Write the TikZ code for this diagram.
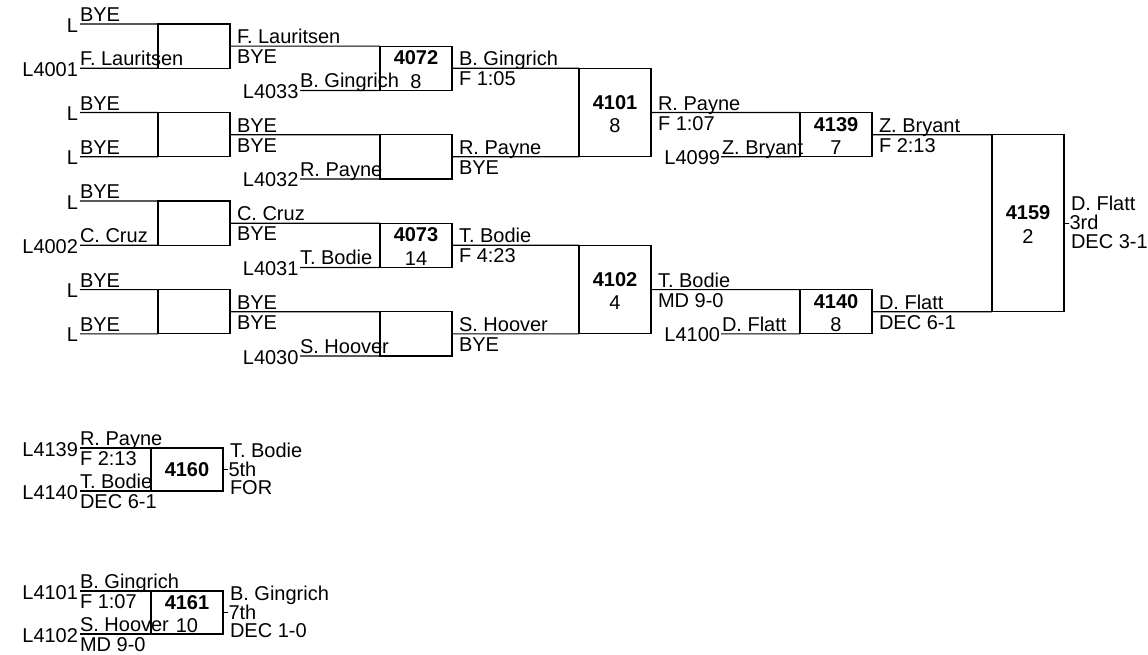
\documentclass[tikz,border=0pt]{standalone}
\usepackage{fontspec}
\setmainfont{Liberation Sans}
\usetikzlibrary{calc}
\def\rowgap{22.133}
\newcommand\TopTxt[4]{\node[txt,anchor=base west] (#1) at (#2,#3-2.5) {#4};}
\newcommand\BotTxt[4]{\node[txt,anchor=base west] (#1) at (#2,#3+17.5) {#4};}
\newcommand\LTxt[4]{\node[txt,anchor=base east] (#1) at (#2,#3+8) {#4};}
\newcommand\BoxTwo[3]{%
  \node[num,anchor=base] (#1n) at ($(#1.center)+(0,-3.5)$) {#2};
  \node[txt,anchor=base] (#1s) at ($(#1.center)+(0,20)$) {#3};}
\newcommand\RightTxt[4]{%
  \coordinate (#1t) at ($(#1.east)+(5,0)$);
  \draw[ln] (#1.east) -- (#1t);
  \node[txt,anchor=base west] (#1r1) at ($(#1.east)+(7,-12.5)$) {#2};
  \node[txt,anchor=base west] (#1r2) at ($(#1.east)+(5.5,6.5)$) {#3};
  \node[txt,anchor=base west] (#1r3) at ($(#1.east)+(7,25)$) {#4};}
\begin{document}
\begin{tikzpicture}[x=1pt,y=-1pt,
  txt/.style={inner sep=0pt,outer sep=0pt,font=\fontsize{20}{24}\selectfont},
  num/.style={txt,font=\fontsize{20}{24}\selectfont\bfseries},
  box/.style={draw,line width=1.2pt,inner sep=0pt,outer sep=0pt,minimum width=72pt},
  ln/.style={line width=1.2pt}]
\useasboundingbox (0,0) rectangle (1148,654);

% ---------- Round 1 ----------
\node[box,minimum height=44.27pt] (A1) at (194,24+1*\rowgap) {};
\node[box,minimum height=44.27pt] (A2) at (194,24+5*\rowgap) {};
\node[box,minimum height=44.27pt] (A3) at (194,24+9*\rowgap) {};
\node[box,minimum height=44.27pt] (A4) at (194,24+13*\rowgap) {};
\coordinate (a1t) at (80,24+0*\rowgap);  \coordinate (a1b) at (80,24+2*\rowgap);
\coordinate (a2t) at (80,24+4*\rowgap);  \coordinate (a2b) at (80,24+6*\rowgap);
\coordinate (a3t) at (80,24+8*\rowgap);  \coordinate (a3b) at (80,24+10*\rowgap);
\coordinate (a4t) at (80,24+12*\rowgap); \coordinate (a4b) at (80,24+14*\rowgap);
\foreach \i in {1,2,3,4}{
  \draw[ln] (a\i t) -- (A\i.north west);
  \draw[ln] (a\i b) -- (A\i.south west);
}
\TopTxt{r1a}{80}{24+0*\rowgap}{BYE}          \LTxt{l1a}{78}{24+0*\rowgap}{L}
\TopTxt{r1b}{80}{24+2*\rowgap}{F. Lauritsen} \LTxt{l1b}{78}{24+2*\rowgap}{L4001}
\TopTxt{r1c}{80}{24+4*\rowgap}{BYE}          \LTxt{l1c}{78}{24+4*\rowgap}{L}
\TopTxt{r1d}{80}{24+6*\rowgap}{BYE}          \LTxt{l1d}{78}{24+6*\rowgap}{L}
\TopTxt{r1e}{80}{24+8*\rowgap}{BYE}          \LTxt{l1e}{78}{24+8*\rowgap}{L}
\TopTxt{r1f}{80}{24+10*\rowgap}{C. Cruz}     \LTxt{l1f}{78}{24+10*\rowgap}{L4002}
\TopTxt{r1g}{80}{24+12*\rowgap}{BYE}         \LTxt{l1g}{78}{24+12*\rowgap}{L}
\TopTxt{r1h}{80}{24+14*\rowgap}{BYE}         \LTxt{l1h}{78}{24+14*\rowgap}{L}

% ---------- Round 2 ----------
\node[box,minimum height=44.27pt] (B1) at (416,24+2*\rowgap) {};
\node[box,minimum height=44.27pt] (B2) at (416,24+6*\rowgap) {};
\node[box,minimum height=44.27pt] (B3) at (416,24+10*\rowgap) {};
\node[box,minimum height=44.27pt] (B4) at (416,24+14*\rowgap) {};
\foreach \i in {1,2,3,4}{ \draw[ln] (A\i.east) -- (B\i.north west); }
\coordinate (b1b) at (300,24+3*\rowgap);
\coordinate (b2b) at (300,24+7*\rowgap);
\coordinate (b3b) at (300,24+11*\rowgap);
\coordinate (b4b) at (300,24+15*\rowgap);
\foreach \i in {1,2,3,4}{ \draw[ln] (b\i b) -- (B\i.south west); }
\TopTxt{r2a}{237}{24+1*\rowgap}{F. Lauritsen} \BotTxt{r2b}{237}{24+1*\rowgap}{BYE}
\TopTxt{r2c}{237}{24+5*\rowgap}{BYE}          \BotTxt{r2d}{237}{24+5*\rowgap}{BYE}
\TopTxt{r2e}{237}{24+9*\rowgap}{C. Cruz}      \BotTxt{r2f}{237}{24+9*\rowgap}{BYE}
\TopTxt{r2g}{237}{24+13*\rowgap}{BYE}         \BotTxt{r2h}{237}{24+13*\rowgap}{BYE}
\LTxt{l2a}{298.5}{24+3*\rowgap}{L4033}  \TopTxt{r2i}{300}{24+3*\rowgap}{B. Gingrich}
\LTxt{l2b}{298.5}{24+7*\rowgap}{L4032}  \TopTxt{r2j}{300}{24+7*\rowgap}{R. Payne}
\LTxt{l2c}{298.5}{24+11*\rowgap}{L4031} \TopTxt{r2k}{300}{24+11*\rowgap}{T. Bodie}
\LTxt{l2d}{298.5}{24+15*\rowgap}{L4030} \TopTxt{r2l}{300}{24+15*\rowgap}{S. Hoover}
\BoxTwo{B1}{4072}{8}
\BoxTwo{B3}{4073}{14}

% ---------- Round 3 ----------
\node[box,minimum height=88.53pt] (C1) at (615,24+4*\rowgap) {};
\node[box,minimum height=88.53pt] (C2) at (615,24+12*\rowgap) {};
\draw[ln] (B1.east) -- (C1.north west);
\draw[ln] (B2.east) -- (C1.south west);
\draw[ln] (B3.east) -- (C2.north west);
\draw[ln] (B4.east) -- (C2.south west);
\TopTxt{r3a}{459}{24+2*\rowgap}{B. Gingrich} \BotTxt{r3b}{459}{24+2*\rowgap}{F 1:05}
\TopTxt{r3c}{459}{24+6*\rowgap}{R. Payne}    \BotTxt{r3d}{459}{24+6*\rowgap}{BYE}
\TopTxt{r3e}{459}{24+10*\rowgap}{T. Bodie}   \BotTxt{r3f}{459}{24+10*\rowgap}{F 4:23}
\TopTxt{r3g}{459}{24+14*\rowgap}{S. Hoover}  \BotTxt{r3h}{459}{24+14*\rowgap}{BYE}
\BoxTwo{C1}{4101}{8}
\BoxTwo{C2}{4102}{4}

% ---------- Round 4 ----------
\node[box,minimum height=44.27pt] (D1) at (836,24+5*\rowgap) {};
\node[box,minimum height=44.27pt] (D2) at (836,24+13*\rowgap) {};
\draw[ln] (C1.east) -- (D1.north west);
\draw[ln] (C2.east) -- (D2.north west);
\coordinate (d1b) at (721,24+6*\rowgap);
\coordinate (d2b) at (721,24+14*\rowgap);
\draw[ln] (d1b) -- (D1.south west);
\draw[ln] (d2b) -- (D2.south west);
\TopTxt{r4a}{658}{24+4*\rowgap}{R. Payne}  \BotTxt{r4b}{658}{24+4*\rowgap}{F 1:07}
\TopTxt{r4c}{658}{24+12*\rowgap}{T. Bodie} \BotTxt{r4d}{658}{24+12*\rowgap}{MD 9-0}
\LTxt{l4a}{720}{24+6*\rowgap}{L4099}  \TopTxt{r4e}{722}{24+6*\rowgap}{Z. Bryant}
\LTxt{l4b}{720}{24+14*\rowgap}{L4100} \TopTxt{r4f}{722}{24+14*\rowgap}{D. Flatt}
\BoxTwo{D1}{4139}{7}
\BoxTwo{D2}{4140}{8}

% ---------- Round 5 ----------
\node[box,minimum height=177.06pt] (E) at (1028,24+9*\rowgap) {};
\draw[ln] (D1.east) -- (E.north west);
\draw[ln] (D2.east) -- (E.south west);
\TopTxt{r5a}{879}{24+5*\rowgap}{Z. Bryant} \BotTxt{r5b}{879}{24+5*\rowgap}{F 2:13}
\TopTxt{r5c}{879}{24+13*\rowgap}{D. Flatt} \BotTxt{r5d}{879}{24+13*\rowgap}{DEC 6-1}
\BoxTwo{E}{4159}{2}
\RightTxt{E}{D. Flatt}{3rd}{DEC 3-1}

% ---------- 5th place ----------
\node[box,minimum height=43pt] (F1) at (187,469.5) {};
\coordinate (f1t) at (80,448); \coordinate (f1b) at (80,491);
\draw[ln] (f1t) -- (F1.north west);
\draw[ln] (f1b) -- (F1.south west);
\LTxt{l5a}{78}{448}{L4139} \TopTxt{r5e}{80}{448}{R. Payne} \BotTxt{r5f}{80}{448}{F 2:13}
\LTxt{l5b}{78}{491}{L4140} \TopTxt{r5g}{80}{491}{T. Bodie} \BotTxt{r5h}{80}{491}{DEC 6-1}
\node[num,anchor=base] (F1n) at ($(F1.center)+(0,7)$) {4160};
\RightTxt{F1}{T. Bodie}{5th}{FOR}

% ---------- 7th place ----------
\node[box,minimum height=43pt] (F2) at (187,612.5) {};
\coordinate (f2t) at (80,591); \coordinate (f2b) at (80,634);
\draw[ln] (f2t) -- (F2.north west);
\draw[ln] (f2b) -- (F2.south west);
\LTxt{l7a}{78}{591}{L4101} \TopTxt{r7a}{80}{591}{B. Gingrich} \BotTxt{r7b}{80}{591}{F 1:07}
\LTxt{l7b}{78}{634}{L4102} \TopTxt{r7c}{80}{634}{S. Hoover}   \BotTxt{r7d}{80}{634}{MD 9-0}
\BoxTwo{F2}{4161}{10}
\RightTxt{F2}{B. Gingrich}{7th}{DEC 1-0}
\end{tikzpicture}
\end{document}
